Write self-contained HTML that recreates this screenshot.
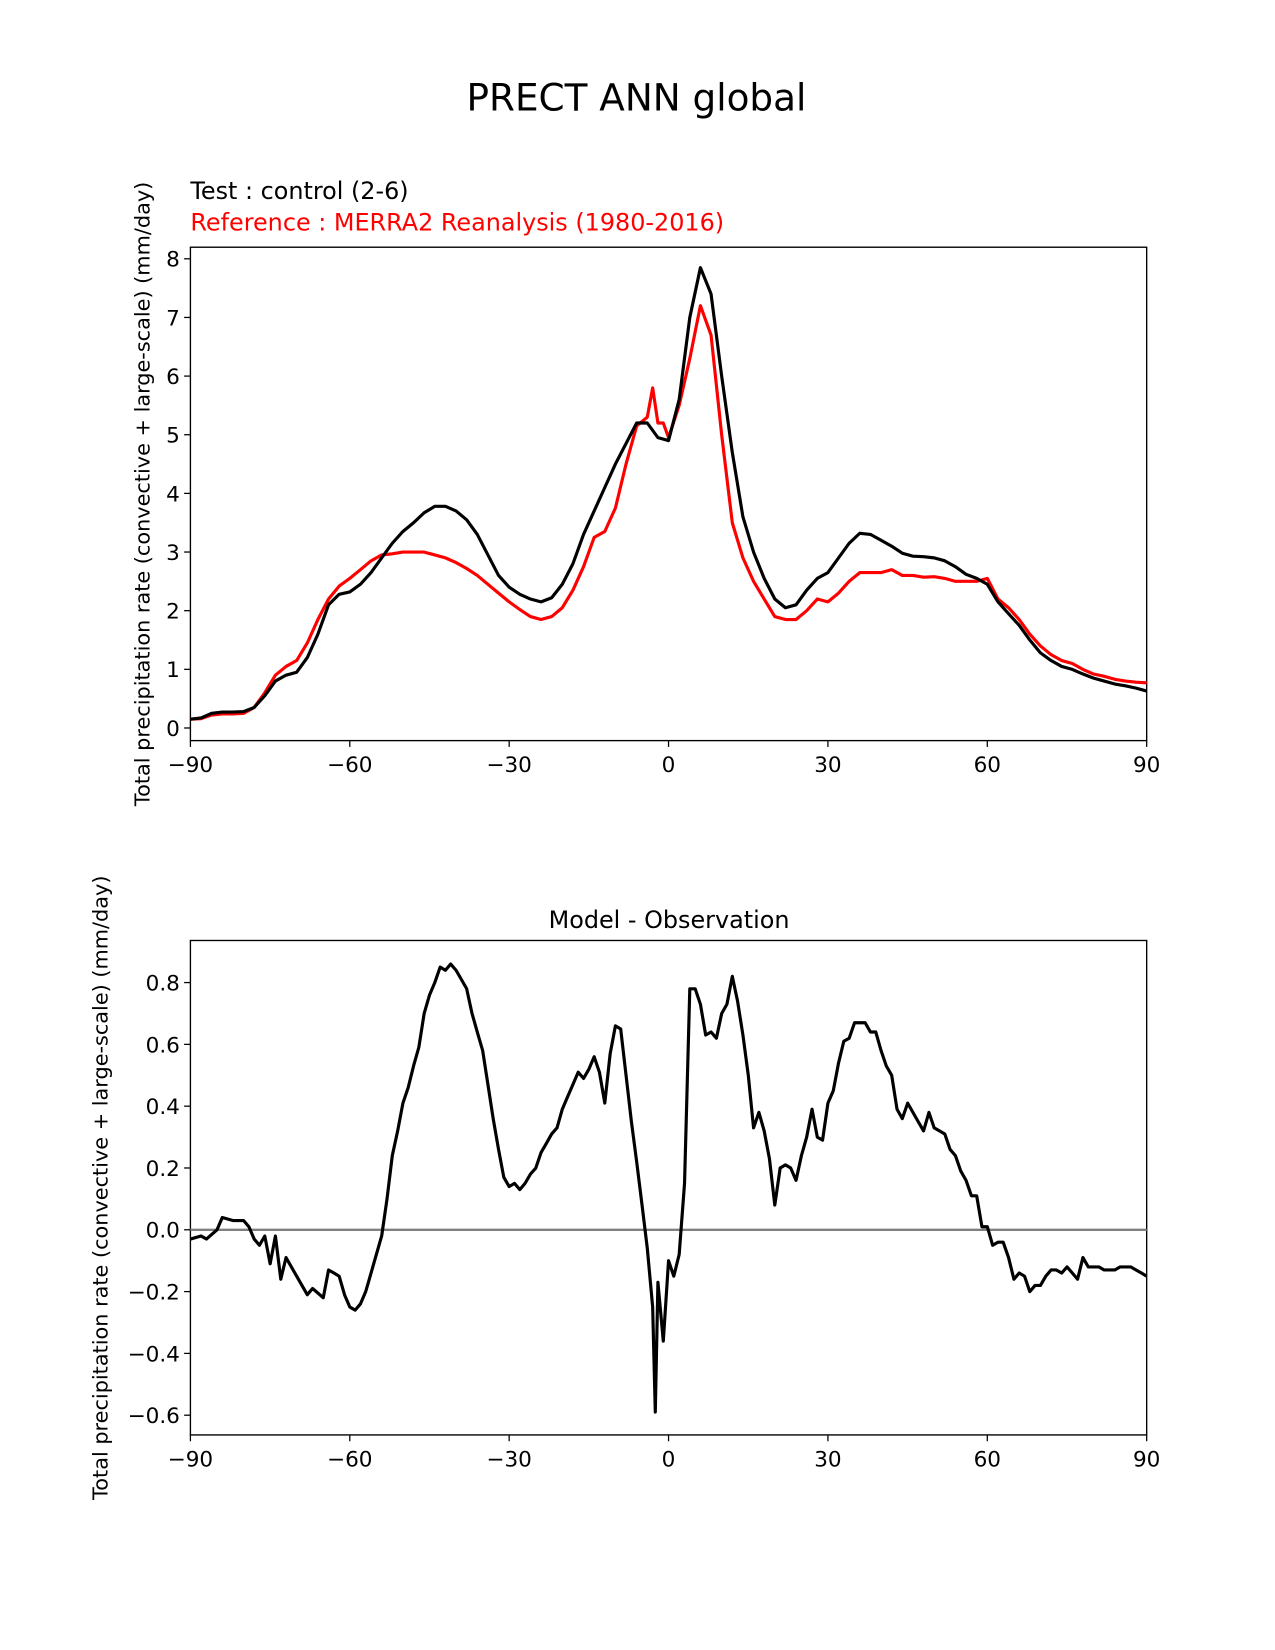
<!DOCTYPE html>
<html><head><meta charset="utf-8"><style>
body{margin:0;background:#fff}
svg{display:block;font-family:"DejaVu Sans","Liberation Sans",sans-serif}
</style></head><body>
<svg id="chart" width="1275" height="1650" viewBox="0 0 1275 1650">
<g transform="scale(1.052)">
<text x="605" y="105" font-size="35.5" text-anchor="middle">PRECT ANN global</text>
<text x="181" y="189" font-size="22.7">Test : control (2-6)</text>
<text x="181" y="219" font-size="22.7" fill="#ff0000">Reference : MERRA2 Reanalysis (1980-2016)</text>
<text x="636" y="882" font-size="22.7" text-anchor="middle">Model - Observation</text>
<g id="top"></g><g id="bot"></g>
</g>
</svg>
<script>
const latTop=[-90,-88,-86,-84,-82,-80,-78,-76,-74,-72,-70,-68,-66,-64,-62,-60,-58,-56,-54,-52,-50,-48,-46,-44,-42,-40,-38,-36,-34,-32,-30,-28,-26,-24,-22,-20,-18,-16,-14,-12,-10,-8,-6,-4,-2,0,2,4,6,8,10,12,14,16,18,20,22,24,26,28,30,32,34,36,38,40,42,44,46,48,50,52,54,56,58,60,62,64,66,68,70,72,74,76,78,80,82,84,86,88,90];
const testVals=[0.15,0.17,0.25,0.27,0.27,0.28,0.35,0.55,0.8,0.9,0.95,1.2,1.6,2.1,2.28,2.32,2.45,2.65,2.9,3.15,3.35,3.5,3.67,3.78,3.78,3.7,3.55,3.3,2.95,2.6,2.4,2.28,2.2,2.15,2.22,2.45,2.8,3.3,3.7,4.1,4.5,4.85,5.2,5.2,4.95,4.9,5.6,7.0,7.85,7.4,6.0,4.7,3.6,3.0,2.55,2.2,2.05,2.1,2.35,2.55,2.65,2.9,3.15,3.32,3.3,3.2,3.1,2.98,2.93,2.92,2.9,2.85,2.75,2.62,2.55,2.45,2.15,1.95,1.75,1.5,1.28,1.15,1.05,1.0,0.92,0.85,0.8,0.75,0.72,0.68,0.63];
const latRef=[-90,-88,-86,-84,-82,-80,-78,-76,-74,-72,-70,-68,-66,-64,-62,-60,-58,-56,-54,-52,-50,-48,-46,-44,-42,-40,-38,-36,-34,-32,-30,-28,-26,-24,-22,-20,-18,-16,-14,-12,-10,-8,-6,-4,-3,-2,-1,0,2,4,6,8,10,12,14,16,18,20,22,24,26,28,30,32,34,36,38,40,42,44,46,48,50,52,54,56,58,60,62,64,66,68,70,72,74,76,78,80,82,84,86,88,90];
const refVals=[0.15,0.16,0.22,0.24,0.24,0.25,0.35,0.6,0.9,1.05,1.15,1.45,1.85,2.2,2.42,2.55,2.7,2.85,2.95,2.97,3.0,3.0,3.0,2.95,2.9,2.82,2.72,2.6,2.45,2.3,2.15,2.02,1.9,1.85,1.9,2.05,2.35,2.75,3.25,3.35,3.75,4.5,5.15,5.3,5.8,5.2,5.2,4.95,5.5,6.3,7.2,6.7,5.0,3.5,2.9,2.5,2.2,1.9,1.85,1.85,2.0,2.2,2.15,2.3,2.5,2.65,2.65,2.65,2.7,2.6,2.6,2.57,2.58,2.55,2.5,2.5,2.5,2.55,2.2,2.05,1.85,1.6,1.4,1.25,1.15,1.1,1.0,0.92,0.88,0.83,0.8,0.78,0.77];
const latDiff=[-90,-88,-87,-85,-84,-82,-80,-79,-78,-77,-76,-75,-74,-73,-72,-70,-68,-67,-65,-64,-63,-62,-61,-60,-59,-58,-57,-56,-54,-53,-52,-51,-50,-49,-48,-47,-46,-45,-44,-43,-42,-41,-40,-39,-38,-37,-36,-35,-34,-33,-32,-31,-30,-29,-28,-27,-26,-25,-24,-23,-22,-21,-20,-19,-18,-17,-16,-15,-14,-13,-12,-11,-10,-9,-8,-7,-6,-5,-4,-3,-2.5,-2,-1,0,1,2,3,4,5,6,7,8,9,10,11,12,13,14,15,16,17,18,19,20,21,22,23,24,25,26,27,28,29,30,31,32,33,34,35,36,37,38,39,40,41,42,43,44,45,46,47,48,49,50,51,52,53,54,55,56,57,58,59,60,61,62,63,64,65,66,67,68,69,70,71,72,73,74,75,76,77,78,79,80,81,82,83,84,85,86,87,88,89,90];
const diffVals=[-0.03,-0.02,-0.03,0,0.04,0.03,0.03,0.01,-0.03,-0.05,-0.02,-0.11,-0.02,-0.16,-0.09,-0.15,-0.21,-0.19,-0.22,-0.13,-0.14,-0.15,-0.21,-0.25,-0.26,-0.24,-0.2,-0.14,-0.02,0.1,0.24,0.32,0.41,0.46,0.53,0.59,0.7,0.76,0.8,0.85,0.84,0.86,0.84,0.81,0.78,0.7,0.64,0.58,0.47,0.36,0.26,0.17,0.14,0.15,0.13,0.15,0.18,0.2,0.25,0.28,0.31,0.33,0.39,0.43,0.47,0.51,0.49,0.52,0.56,0.51,0.41,0.57,0.66,0.65,0.5,0.35,0.22,0.08,-0.06,-0.25,-0.59,-0.17,-0.36,-0.1,-0.15,-0.08,0.15,0.78,0.78,0.73,0.63,0.64,0.62,0.7,0.73,0.82,0.74,0.63,0.5,0.33,0.38,0.32,0.23,0.08,0.2,0.21,0.2,0.16,0.24,0.3,0.39,0.3,0.29,0.41,0.45,0.54,0.61,0.62,0.67,0.67,0.67,0.64,0.64,0.58,0.53,0.5,0.39,0.36,0.41,0.38,0.35,0.32,0.38,0.33,0.32,0.31,0.26,0.24,0.19,0.16,0.11,0.11,0.01,0.01,-0.05,-0.04,-0.04,-0.09,-0.16,-0.14,-0.15,-0.2,-0.18,-0.18,-0.15,-0.13,-0.13,-0.14,-0.12,-0.14,-0.16,-0.09,-0.12,-0.12,-0.12,-0.13,-0.13,-0.13,-0.12,-0.12,-0.12,-0.13,-0.14,-0.15];
const xTicks=[-90,-60,-30,0,30,60,90];
const xTickLabels=["\u221290","\u221260","\u221230","0","30","60","90"];
const yTicksTop=[0,1,2,3,4,5,6,7,8];
const yTicksBot=[-0.6,-0.4,-0.2,0,0.2,0.4,0.6,0.8];
const yTickLabelsBot=["\u22120.6","\u22120.4","\u22120.2","0.0","0.2","0.4","0.6","0.8"];

const NS="http://www.w3.org/2000/svg";
function mk(parent,tag,attrs,text){const e=document.createElementNS(NS,tag);for(const k in attrs)e.setAttribute(k,attrs[k]);if(text!==undefined)e.textContent=text;parent.appendChild(e);return e;}
const X0=181,X1=1090;
const xs=v=>X0+(v+90)/180*(X1-X0);
const yTop=v=>692-v*(692-246)/8;
const yBot=v=>1169-v*(1169-934)/0.8;

function axes(g,top,bot,yfn,yt,ytl,labelX,name){
  const f=mk(g,'rect',{x:X0,y:top,width:X1-X0,height:bot-top,fill:'none',stroke:'#000','stroke-width':1.3});
  
  
  xTicks.forEach((t,i)=>{
    const l=mk(g,'line',{x1:xs(t),x2:xs(t),y1:bot,y2:bot+6,stroke:'#000','stroke-width':1.2});
    
    
    const tx=mk(g,'text',{x:xs(t),y:bot+30,'font-size':20.5,'text-anchor':'middle'},xTickLabels[i]);
    
    
  });
  yt.forEach((t,i)=>{
    const l=mk(g,'line',{x1:X0-6,x2:X0,y1:yfn(t),y2:yfn(t),stroke:'#000','stroke-width':1.2});
    
    
    const tx=mk(g,'text',{x:X0-10,y:yfn(t)+7.5,'font-size':20.5,'text-anchor':'end'},ytl[i]);
    
    
  });
  const cy=(top+bot)/2;
  const yl=mk(g,'text',{x:labelX,y:cy,'font-size':19.8,'text-anchor':'middle',transform:`rotate(-90 ${labelX} ${cy})`},'Total precipitation rate (convective + large-scale) (mm/day)');
  
  
}
function line(g,lats,vals,yfn,color,name){
  const d=lats.map((la,i)=>(i?'L':'M')+xs(la).toFixed(1)+','+yfn(vals[i]).toFixed(1)).join('');
  const p=mk(g,'path',{d:d,fill:'none',stroke:color,'stroke-width':3,'stroke-linejoin':'round'});
  
  
}
const gt=document.getElementById('top'),gb=document.getElementById('bot');
axes(gt,235,704,yTop,yTicksTop,yTicksTop.map(String),142,'top-axes');
line(gt,latRef,refVals,yTop,'#ff0000','reference-line');
line(gt,latTop,testVals,yTop,'#000','test-line');
axes(gb,894,1364,yBot,yTicksBot,yTickLabelsBot,102,'diff-axes');
const z=mk(gb,'line',{x1:X0,x2:X1,y1:yBot(0),y2:yBot(0),stroke:'#808080','stroke-width':2.2});


line(gb,latDiff,diffVals,yBot,'#000','difference-line');
</script>
</body></html>
